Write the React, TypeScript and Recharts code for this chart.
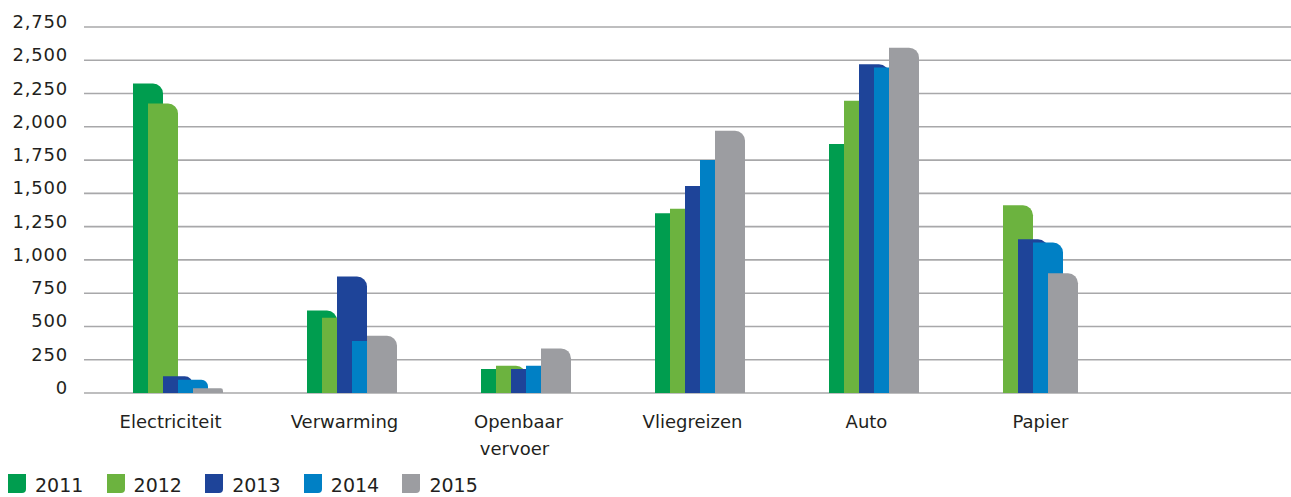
import React from 'react';
import { BarChart, Bar, XAxis, YAxis, CartesianGrid, Cell } from 'recharts';

const categories = ['Electriciteit', 'Verwarming', 'Openbaar vervoer', 'Vliegreizen', 'Auto', 'Papier'];
const years = ['2011', '2012', '2013', '2014', '2015'];
const v2011: (number | null)[] = [2325, 620, 180, 1350, 1870, null];
const v2012: (number | null)[] = [2175, 565, 205, 1385, 2195, 1410];
const v2013: (number | null)[] = [125, 875, 180, 1555, 2470, 1155];
const v2014: (number | null)[] = [100, 390, 205, 1750, 2445, 1130];
const v2015: (number | null)[] = [35, 430, 335, 1970, 2595, 900];
const yTicks = [0, 250, 500, 750, 1000, 1250, 1500, 1750, 2000, 2250, 2500, 2750];

const colors = ['#009d4f', '#6cb33f', '#1e4499', '#0080c5', '#9c9da1'];
const series = [v2011, v2012, v2013, v2014, v2015];

// Bars of a category are laid out consecutively, skipping missing years.
const table = categories.map((name, j) => {
  const row: any = { name };
  let slot = 0;
  series.forEach((s, k) => {
    const v = s[j];
    if (v !== null && v !== undefined) {
      row[`s${slot}`] = v;
      row[`c${slot}`] = k;
      slot += 1;
    }
  });
  for (let i = slot; i < series.length; i++) {
    row[`s${i}`] = null;
    row[`c${i}`] = 0;
  }
  return row;
});

const FONT = '"DejaVu Sans", sans-serif';
const TEXT = '#231f20';

const fmt = (v: number) => v.toLocaleString('en-US');

const YTick = (props: any) => {
  const { y, payload } = props;
  return (
    <text x={68} y={y + 1} textAnchor="end" fontFamily={FONT} fontSize={18} fill={TEXT} letterSpacing={0.8}>
      {fmt(payload.value)}
    </text>
  );
};

const XTick = (props: any) => {
  const { x, y, payload } = props;
  const lines = String(payload.value).split(' ');
  return (
    <g>
      {lines.map((l: string, i: number) => (
        <text key={i} x={x - 7.5 - (i > 0 ? 4 : 0)} y={y + 35 + 27 * i} textAnchor="middle" fontFamily={FONT} fontSize={18} fill={TEXT}>
          {l}
        </text>
      ))}
    </g>
  );
};

export default function App() {
  return (
    <div style={{ position: 'absolute', left: 0, top: 0, width: 1291, height: 497, overflow: 'hidden', background: '#fff' }}>
      <BarChart
        width={1291}
        height={497}
        data={table}
        margin={{ top: 27, right: 0, bottom: 0, left: 0 }}
        barSize={30}
        barGap={-15}
      >
        <CartesianGrid vertical={false} stroke="#a8a8aa" strokeWidth={1.6} />
        <XAxis
          dataKey="name"
          height={104}
          padding={{ left: 7, right: 156 }}
          axisLine={false}
          tickLine={false}
          tickSize={0}
          tickMargin={0}
          interval={0}
          tick={<XTick />}
        />
        <YAxis
          width={84}
          domain={[0, 2750]}
          ticks={yTicks}
          axisLine={false}
          tickLine={false}
          interval={0}
          tick={<YTick />}
        />
        {years.map((yr, i) => (
          <Bar key={yr} dataKey={`s${i}`} name={yr} isAnimationActive={false} radius={[0, 10, 0, 0]}>
            {table.map((row, j) => (
              <Cell key={j} fill={colors[row[`c${i}`]]} />
            ))}
          </Bar>
        ))}
      </BarChart>
      {years.map((yr, i) => (
        <React.Fragment key={yr}>
          <div
            style={{
              position: 'absolute',
              left: 8 + 98.6 * i,
              top: 474,
              width: 18,
              height: 19,
              background: colors[i],
              borderBottomRightRadius: 4,
            }}
          />
          <span
            style={{
              position: 'absolute',
              left: 35 + 98.6 * i,
              top: 474,
              fontFamily: FONT,
              fontSize: 19,
              lineHeight: '22px',
              color: TEXT,
              whiteSpace: 'nowrap',
            }}
          >
            {yr}
          </span>
        </React.Fragment>
      ))}
    </div>
  );
}
